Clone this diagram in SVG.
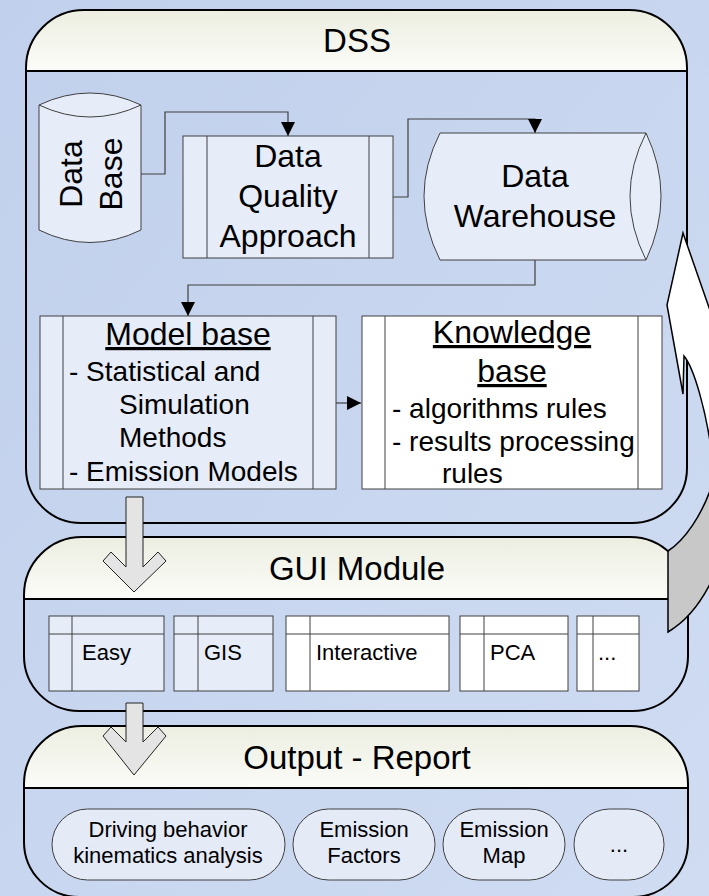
<svg xmlns="http://www.w3.org/2000/svg" width="709" height="896" viewBox="0 0 709 896">
<defs>
<linearGradient id="bg" x1="0" y1="0" x2="1" y2="1">
<stop offset="0" stop-color="#c1d0ec"/>
<stop offset="1" stop-color="#cfdcf2"/>
</linearGradient>
<linearGradient id="hdr" x1="0" y1="0" x2="0" y2="1">
<stop offset="0" stop-color="#eceee1"/>
<stop offset="1" stop-color="#fbfcf8"/>
</linearGradient>
<marker id="ah" markerUnits="userSpaceOnUse" markerWidth="14" markerHeight="14" refX="14" refY="7" orient="auto">
<path d="M0,0 L14,7 L0,14 Z" fill="#000"/>
</marker>
<style>
text{font-family:"Liberation Sans",Arial,sans-serif;fill:#000}
.cont{fill:none;stroke:#000;stroke-width:2}
.hdr{fill:url(#hdr);stroke:none}
.title{font-size:33px;text-anchor:middle}
.box{fill:#e6ecf8;stroke:#404040;stroke-width:1}
.wbox{fill:#fff;stroke:#404040;stroke-width:1}
.ln{stroke:#404040;stroke-width:1;fill:none}
.big{font-size:32px;text-anchor:middle}
.item{font-size:28px}
.tab{font-size:22px}
.pill{fill:#e4eaf6;stroke:#404040;stroke-width:1}
.ptxt{font-size:22px;text-anchor:middle}
.conn{fill:none;stroke:#404040;stroke-width:1.2}
.blk{fill:#e4e4e4;stroke:#222;stroke-width:1}
</style>
</defs>
<rect x="0" y="0" width="709" height="896" fill="url(#bg)"/>

<g id="dss">
<path class="hdr" d="M26,71 L26,68 A58,58 0 0 1 84,10 L629,10 A58,58 0 0 1 687,68 L687,71 Z"/>
<path class="cont" d="M26,68 A58,58 0 0 1 84,10 L629,10 A58,58 0 0 1 687,68 L687,468 A55,55 0 0 1 632,523 L81,523 A55,55 0 0 1 26,468 Z"/>
<line x1="26" y1="71" x2="687" y2="71" stroke="#000" stroke-width="2"/>
<text class="title" x="357" y="52">DSS</text>
</g>

<g id="gui">
<path class="hdr" d="M24,599 L24,595 A58,58 0 0 1 82,537 L630,537 A58,58 0 0 1 688,595 L688,599 Z"/>
<path class="cont" d="M24,595 A58,58 0 0 1 82,537 L630,537 A58,58 0 0 1 688,595 L688,656 A55,55 0 0 1 633,711 L79,711 A55,55 0 0 1 24,656 Z"/>
<line x1="24" y1="599" x2="688" y2="599" stroke="#000" stroke-width="2"/>
<text class="title" x="357" y="580">GUI Module</text>
</g>

<g id="output">
<path class="hdr" d="M24,788 L24,784 A58,58 0 0 1 82,726 L630,726 A58,58 0 0 1 688,784 L688,788 Z"/>
<path class="cont" d="M24,784 A58,58 0 0 1 82,726 L630,726 A58,58 0 0 1 688,784 L688,842 A55,55 0 0 1 633,897 L79,897 A55,55 0 0 1 24,842 Z"/>
<line x1="24" y1="788" x2="688" y2="788" stroke="#000" stroke-width="2"/>
<text class="title" x="357" y="769">Output - Report</text>
</g>

<g id="connectors">
<polyline class="conn" points="141,174 165,174 165,112 288,112 288,136" marker-end="url(#ah)"/>
<polyline class="conn" points="393,197 408,197 408,119 535,119 535,133" marker-end="url(#ah)"/>
<polyline class="conn" points="535,260 535,285 188,285 188,316" marker-end="url(#ah)"/>
<line class="conn" x1="336" y1="403" x2="361" y2="403" marker-end="url(#ah)"/>
</g>

<g id="database">
<path class="box" d="M39,105 Q90,81 141,105 L141,230 Q90,255 39,230 Z"/>
<path class="ln" d="M39,105 Q90,129 141,105"/>
<text class="big" transform="translate(82,174) rotate(-90)">Data</text>
<text class="big" transform="translate(122,174) rotate(-90)">Base</text>
</g>

<g id="dataquality">
<rect class="box" x="183" y="136" width="210" height="122"/>
<line class="ln" x1="207" y1="136" x2="207" y2="258"/>
<line class="ln" x1="369" y1="136" x2="369" y2="258"/>
<text class="big" x="288" y="167">Data</text>
<text class="big" x="288" y="207">Quality</text>
<text class="big" x="288" y="247">Approach</text>
</g>

<g id="datawarehouse">
<path class="box" d="M440,133 L646,133 Q676,196 646,260 L440,260 Q408,196 440,133 Z"/>
<path class="ln" d="M646,133 Q614,196 646,260"/>
<text class="big" x="535" y="187">Data</text>
<text class="big" x="535" y="227">Warehouse</text>
</g>

<g id="modelbase">
<rect class="box" x="40" y="316" width="296" height="173"/>
<line class="ln" x1="63" y1="316" x2="63" y2="489"/>
<line class="ln" x1="313" y1="316" x2="313" y2="489"/>
<text class="big" x="188" y="345" text-decoration="underline">Model base</text>
<text class="item" x="69" y="381" xml:space="preserve">- Statistical and</text>
<text class="item" x="119" y="414">Simulation</text>
<text class="item" x="119" y="447">Methods</text>
<text class="item" x="69" y="481" xml:space="preserve">- Emission Models</text>
</g>

<g id="knowledgebase">
<rect class="wbox" x="362" y="316" width="300" height="173"/>
<line class="ln" x1="385" y1="316" x2="385" y2="489"/>
<line class="ln" x1="638" y1="316" x2="638" y2="489"/>
<text class="big" x="512" y="343" text-decoration="underline">Knowledge</text>
<text class="big" x="512" y="382" text-decoration="underline">base</text>
<text class="item" x="392" y="418" xml:space="preserve">- algorithms rules</text>
<text class="item" x="392" y="451" xml:space="preserve">- results processing</text>
<text class="item" x="442" y="483">rules</text>
</g>

<g id="tab-easy">
<rect class="box" x="49" y="616" width="115" height="75"/>
<line class="ln" x1="49" y1="634" x2="164" y2="634"/>
<line class="ln" x1="72" y1="616" x2="72" y2="691"/>
<text class="tab" x="82" y="660">Easy</text>
</g>
<g id="tab-gis">
<rect class="box" x="174" y="616" width="99" height="75"/>
<line class="ln" x1="174" y1="634" x2="273" y2="634"/>
<line class="ln" x1="198" y1="616" x2="198" y2="691"/>
<text class="tab" x="204" y="660">GIS</text>
</g>
<g id="tab-interactive">
<rect class="wbox" x="286" y="616" width="163" height="75"/>
<line class="ln" x1="286" y1="634" x2="449" y2="634"/>
<line class="ln" x1="310" y1="616" x2="310" y2="691"/>
<text class="tab" x="316" y="660">Interactive</text>
</g>
<g id="tab-pca">
<rect class="wbox" x="460" y="616" width="108" height="75"/>
<line class="ln" x1="460" y1="634" x2="568" y2="634"/>
<line class="ln" x1="484" y1="616" x2="484" y2="691"/>
<text class="tab" x="490" y="660">PCA</text>
</g>
<g id="tab-more">
<rect class="wbox" x="577" y="616" width="62" height="75"/>
<line class="ln" x1="577" y1="634" x2="639" y2="634"/>
<line class="ln" x1="593" y1="616" x2="593" y2="691"/>
<text class="tab" x="598" y="660">...</text>
</g>

<g id="pill-driving">
<rect class="pill" x="52" y="809" width="233" height="71" rx="35.5"/>
<text class="ptxt" x="168" y="837">Driving behavior</text>
<text class="ptxt" x="168" y="863">kinematics analysis</text>
</g>
<g id="pill-factors">
<rect class="pill" x="293" y="809" width="142" height="71" rx="35.5"/>
<text class="ptxt" x="364" y="837">Emission</text>
<text class="ptxt" x="364" y="863">Factors</text>
</g>
<g id="pill-map">
<rect class="pill" x="443" y="809" width="122" height="71" rx="35.5"/>
<text class="ptxt" x="504" y="837">Emission</text>
<text class="ptxt" x="504" y="863">Map</text>
</g>
<g id="pill-more">
<rect class="pill" x="574" y="809" width="90" height="71" rx="35.5"/>
<text class="ptxt" x="619" y="852">...</text>
</g>

<g id="flow-arrows">
<polygon class="blk" points="126,497 143,497 143,567 158,552 166,561 134,592 103,561 111,552 126,567"/>
<polygon class="blk" points="126,703 143,703 143,742 158,727 166,736 134,775 103,736 111,727 126,742"/>
<path fill="#fff" stroke="#000" stroke-width="1.5" d="M683,233 L667,305 L683,394 L684,356 C694,368 706,410 712,455 L712,316 Z"/>
<path fill="#c8c8c8" stroke="#000" stroke-width="1.5" d="M668,551 C685,540 702,515 712,485 L712,580 C700,605 685,622 668,632 Z"/>
</g>
</svg>
